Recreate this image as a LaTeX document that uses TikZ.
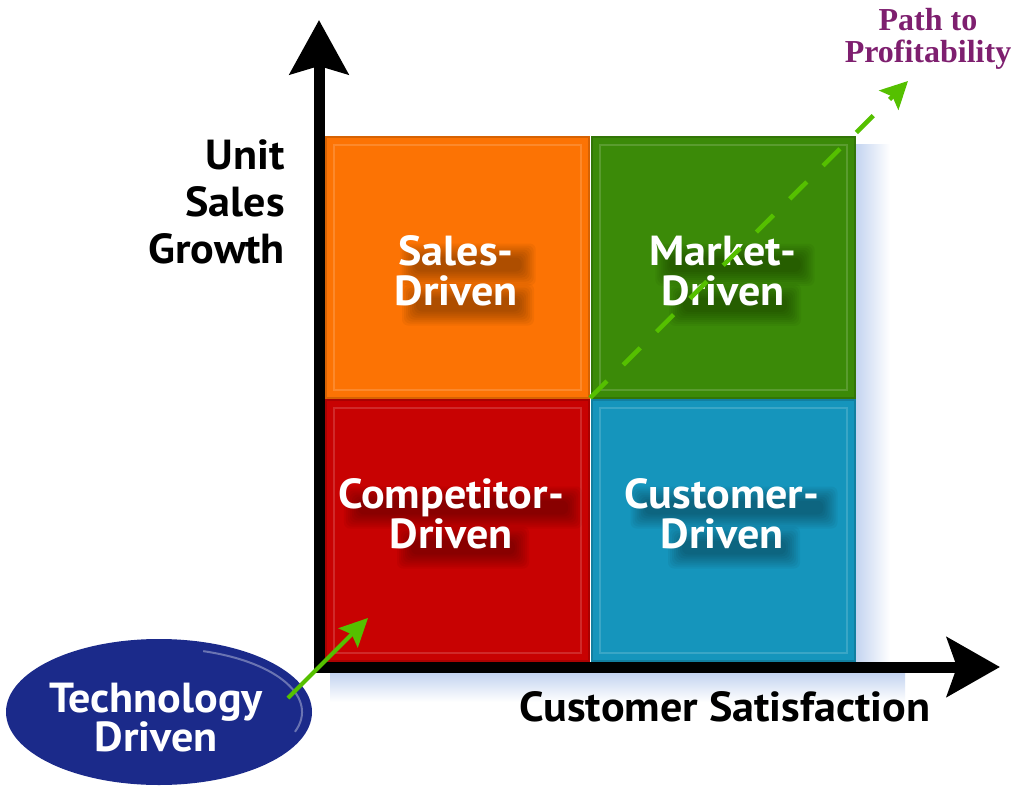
\documentclass[tikz,border=0pt]{standalone}
\usepackage{fontspec}
\setmainfont{PT Sans}[FakeStretch=1.05]
\newfontfamily\pathfont{Liberation Serif}
\usetikzlibrary{arrows.meta,shapes.geometric}
\pgfdeclarelayer{bg}
\pgfdeclarelayer{shad}
\pgfsetlayers{bg,shad,main}
\definecolor{orangeQ}{HTML}{FC7304}
\definecolor{greenQ}{HTML}{3B8A08}
\definecolor{redQ}{HTML}{C80202}
\definecolor{blueQ}{HTML}{1595BC}
\definecolor{navyQ}{HTML}{1B2A8A}
\definecolor{arrowG}{HTML}{55C000}
\definecolor{purpleQ}{HTML}{7E1F6F}
\definecolor{glowQ}{HTML}{C4D4F0}
\tikzset{
  quad/.style={rectangle, minimum width=263pt, minimum height=261pt, inner sep=0pt, outer sep=0pt, anchor=north west, line width=2pt},
  qlabel/.style={text=white, font=\bfseries\fontsize{42}{40}\selectfont, align=center, inner sep=0pt},
  axislbl/.style={text=black, font=\bfseries\fontsize{42}{47}\selectfont, inner sep=0pt},
  axisline/.style={line width=11pt, black},
  greenarrow/.style={arrowG, line width=4.5pt},
  bevel/.style={white, opacity=0.16, line width=1.5pt},
  blob/.style={black, opacity=0.045, rounded corners=6pt}
}
% label with a soft dark shadow below right; #4 = half width of second line
\newcommand\qlab[4]{%
  \node[qlabel] (#1) at #2 {#3};
  \begin{pgfonlayer}{shad}
  \foreach \k in {0,...,7}{%
    \pgfmathsetmacro\ins{8-2*\k}
    \fill[blob] ([shift={(12+\ins,14+\ins)}]#1.north west) rectangle ([shift={(12-\ins,44-\ins)}]#1.north east);
    \fill[blob] ([shift={(12-#4+\ins,54+\ins)}]#1.north) rectangle ([shift={(12+#4-\ins,84-\ins)}]#1.north);}
  \end{pgfonlayer}}
\begin{document}
\begin{tikzpicture}[x=1pt,y=-1pt]
\useasboundingbox (0,0) rectangle (1019,786);
\begin{pgfonlayer}{bg}
\fill[white] (0,0) rectangle (1019,786);
% soft glow behind the grid
\shade[left color=glowQ, right color=white] (856,145) rectangle (890,665);
\shade[top color=glowQ, bottom color=white] (330,673) rectangle (905,702);
% quadrants
\node[quad, fill=orangeQ, draw=orangeQ!85!black] (sales) at (326,137) {};
\node[quad, fill=greenQ, draw=greenQ!85!black] (market) at (592,137) {};
\node[quad, fill=redQ, draw=redQ!85!black] (comp) at (326,400) {};
\node[quad, fill=blueQ, draw=blueQ!85!black] (cust) at (592,400) {};
\foreach \q in {sales,market,comp,cust}{
  \draw[bevel] ([shift={(8,8)}]\q.north west) rectangle ([shift={(-8,-8)}]\q.south east);
}
\end{pgfonlayer}

\qlab{salesL}{(456,271)}{Sales-\\Driven}{60}
\qlab{marketL}{(723,271)}{Market-\\Driven}{60}
\qlab{compL}{(451,514)}{Competitor-\\Driven}{60}
\qlab{custL}{(722,514)}{Customer-\\Driven}{60}

% axes
\coordinate (ybase) at (319,672.5);
\coordinate (ytip) at (319,20);
\coordinate (xbase) at (313.5,667);
\coordinate (xtip) at (1000,667);
\draw[axisline, -{Stealth[length=54pt,width=58pt,inset=8pt]}] (ybase) -- (ytip);
\draw[axisline, -{Stealth[length=53pt,width=59pt,inset=10pt]}] (xbase) -- (xtip);

\node[axislbl, align=right, anchor=east] (ylab) at (285,202) {Unit\\Sales\\Growth};
\node[axislbl, anchor=base] (xlab) at (725,721) {Customer Satisfaction};

% path to profitability
\coordinate (pstart) at (590,398);
\coordinate (ptip) at (908,81);
\draw[greenarrow, dash pattern=on 24pt off 23pt, -{Stealth[length=27pt,width=27pt,inset=5pt]}] (pstart) -- (ptip);
\node[text=purpleQ, font=\pathfont\bfseries\fontsize{32}{32}\selectfont, align=center, inner sep=0pt] (path) at (928,39) {Path to\\Profitability};

% technology driven
\node[ellipse, fill=navyQ, minimum width=306pt, minimum height=146pt, inner sep=0pt] (tech) at (159,712) {};
\draw[white, opacity=0.35, line width=2pt] (tech.center) ++(-72:143 and 64) arc[start angle=-72, end angle=18, x radius=143, y radius=64];
\node[qlabel, font=\bfseries\fontsize{42}{39}\selectfont] (techL) at (156,718) {Technology\\Driven};
\coordinate (tstart) at (288,698);
\coordinate (ttip) at (368,618);
\draw[greenarrow, line width=4pt, -{Stealth[length=28pt,width=27pt,inset=5pt]}] (tstart) -- (ttip);
\end{tikzpicture}
\end{document}
